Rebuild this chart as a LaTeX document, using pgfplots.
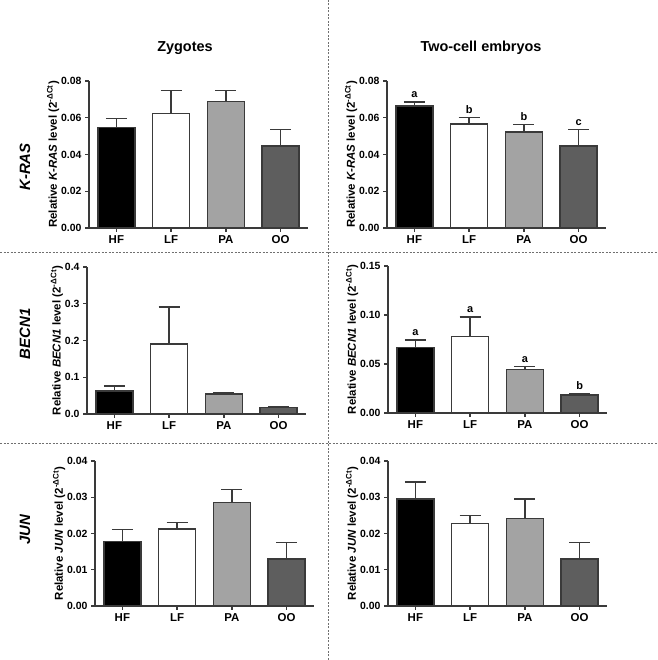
\documentclass[border=0pt]{standalone}
\usepackage{fontspec}
\setmainfont{Liberation Sans}
\usepackage{pgfplots}
\pgfplotsset{compat=1.18}
\definecolor{axgray}{HTML}{3A3A3A}
\definecolor{pagray}{HTML}{A3A3A3}
\definecolor{oogray}{HTML}{5E5E5E}
\definecolor{dashgray}{HTML}{707070}
\pgfplotsset{
  panel/.style={
    scale only axis, width=219bp, height=147bp,
    xmin=-0.5, xmax=3.5, ymin=0,
    axis lines=left,
    axis line style={draw=axgray, line width=1.6pt, -},
    tick style={draw=axgray, line width=1.4pt},
    tick align=outside, major tick length=4bp,
    xtick={0,1,2,3}, xticklabels={HF,LF,PA,OO},
    x tick label style={font=\fontsize{11.5}{13}\selectfont\bfseries},
    scaled y ticks=false,
    y tick label style={font=\fontsize{10.5}{12}\selectfont\bfseries},
    /pgf/number format/assume math mode=true,
    /pgf/number format/fixed, /pgf/number format/fixed zerofill,
    ylabel style={font=\fontsize{11.5}{13}\selectfont\bfseries},
    ylabel shift=-5bp,
    clip=false,
  },
  gbar/.style={ybar, bar width=37bp, bar shift=0pt, draw=axgray, line width=1.5pt, fill=#1,
     error bars/.cd, y dir=plus, y explicit, error mark=|,
     error bar style={draw=axgray, line width=1.5pt},
     error mark options={draw=axgray, line width=1.5pt, mark size=10.5bp}},
  letters/.style={only marks, mark=none, nodes near coords, point meta=explicit symbolic,
     nodes near coords style={anchor=south, font=\fontsize{11}{13}\selectfont\bfseries, inner sep=0pt, yshift=4bp}},
}
\begin{document}
\begin{tikzpicture}[x=1bp,y=1bp]
\path[use as bounding box] (0,0) rectangle (658,660);
% separators
\draw[dashgray, line width=0.6pt, dash pattern=on 2bp off 1.5bp] (0,408) -- (658,408);
\draw[dashgray, line width=0.6pt, dash pattern=on 2bp off 1.5bp] (0,217) -- (658,217);
\draw[dashgray, line width=0.6pt, dash pattern=on 2bp off 1.5bp] (328,0) -- (328,660);
% titles
\node[font=\fontsize{14.5}{17}\selectfont\bfseries] at (185,612) {Zygotes};
\node[font=\fontsize{14.5}{17}\selectfont\bfseries] at (481,612) {Two-cell embryos};
\node[rotate=90, font=\fontsize{15}{17}\selectfont\bfseries\itshape] at (25,493) {K-RAS};
\node[rotate=90, font=\fontsize{15}{17}\selectfont\bfseries\itshape] at (25,326) {BECN1};
\node[rotate=90, font=\fontsize{15}{17}\selectfont\bfseries\itshape] at (25,130) {JUN};

% K-RAS zygotes
\begin{axis}[panel, at={(89bp,432bp)}, anchor=south west, ymax=0.08,
  ytick={0,0.02,0.04,0.06,0.08}, /pgf/number format/precision=2,
  ylabel={Relative \textit{K-RAS} level (2\textsuperscript{-ΔCt})}]
\addplot[gbar=black] coordinates {(0,0.0546) +- (0,0.0050)};
\addplot[gbar=white] coordinates {(1,0.0622) +- (0,0.0127)};
\addplot[gbar=pagray] coordinates {(2,0.0689) +- (0,0.0060)};
\addplot[gbar=oogray] coordinates {(3,0.0445) +- (0,0.0091)};
\end{axis}

% K-RAS two-cell
\begin{axis}[panel, at={(387bp,432bp)}, anchor=south west, ymax=0.08,
  ytick={0,0.02,0.04,0.06,0.08}, /pgf/number format/precision=2,
  ylabel={Relative \textit{K-RAS} level (2\textsuperscript{-ΔCt})}]
\addplot[gbar=black] coordinates {(0,0.0665) +- (0,0.0022)};
\addplot[gbar=white] coordinates {(1,0.0567) +- (0,0.0035)};
\addplot[gbar=pagray] coordinates {(2,0.0522) +- (0,0.0040)};
\addplot[gbar=oogray] coordinates {(3,0.0445) +- (0,0.0091)};
\addplot[letters] coordinates {(0,0.0687)[a] (1,0.0602)[b] (2,0.0562)[b] (3,0.0536)[c]};
\end{axis}

% BECN1 zygotes
\begin{axis}[panel, at={(87bp,246bp)}, anchor=south west, ymax=0.4,
  ytick={0,0.1,0.2,0.3,0.4}, /pgf/number format/precision=1,
  ylabel={Relative \textit{BECN1} level (2\textsuperscript{-ΔCt})}]
\addplot[gbar=black] coordinates {(0,0.0620) +- (0,0.0136)};
\addplot[gbar=white] coordinates {(1,0.1900) +- (0,0.1010)};
\addplot[gbar=pagray] coordinates {(2,0.0538) +- (0,0.0045)};
\addplot[gbar=oogray] coordinates {(3,0.0173) +- (0,0.0027)};
\end{axis}

% BECN1 two-cell
\begin{axis}[panel, at={(388bp,247bp)}, anchor=south west, ymax=0.15,
  ytick={0,0.05,0.10,0.15}, /pgf/number format/precision=2,
  ylabel={Relative \textit{BECN1} level (2\textsuperscript{-ΔCt})}]
\addplot[gbar=black] coordinates {(0,0.0666) +- (0,0.0079)};
\addplot[gbar=white] coordinates {(1,0.0783) +- (0,0.0199)};
\addplot[gbar=pagray] coordinates {(2,0.0443) +- (0,0.0031)};
\addplot[gbar=oogray] coordinates {(3,0.0185) +- (0,0.0011)};
\addplot[letters] coordinates {(0,0.0745)[a] (1,0.0982)[a] (2,0.0474)[a] (3,0.0196)[b]};
\end{axis}

% JUN zygotes
\begin{axis}[panel, at={(95bp,54bp)}, anchor=south west, ymax=0.04, height=145bp,
  ytick={0,0.01,0.02,0.03,0.04}, /pgf/number format/precision=2,
  ylabel={Relative \textit{JUN} level (2\textsuperscript{-ΔCt})}]
\addplot[gbar=black] coordinates {(0,0.01775) +- (0,0.0034)};
\addplot[gbar=white] coordinates {(1,0.0213) +- (0,0.0018)};
\addplot[gbar=pagray] coordinates {(2,0.0285) +- (0,0.0036)};
\addplot[gbar=oogray] coordinates {(3,0.0130) +- (0,0.0045)};
\end{axis}

% JUN two-cell
\begin{axis}[panel, at={(388bp,54bp)}, anchor=south west, ymax=0.04, height=145bp,
  ytick={0,0.01,0.02,0.03,0.04}, /pgf/number format/precision=2,
  ylabel={Relative \textit{JUN} level (2\textsuperscript{-ΔCt})}]
\addplot[gbar=black] coordinates {(0,0.0295) +- (0,0.0047)};
\addplot[gbar=white] coordinates {(1,0.0227) +- (0,0.0023)};
\addplot[gbar=pagray] coordinates {(2,0.0241) +- (0,0.0054)};
\addplot[gbar=oogray] coordinates {(3,0.0130) +- (0,0.0045)};
\end{axis}
\end{tikzpicture}
\end{document}
